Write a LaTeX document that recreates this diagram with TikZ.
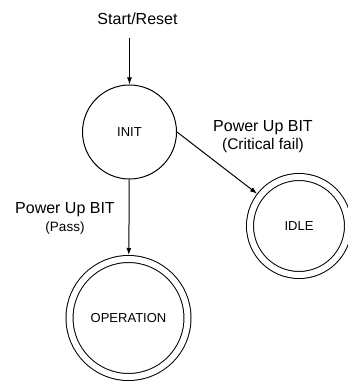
\documentclass[tikz,border=0pt]{standalone}
\usepackage{fontspec}
\setmainfont{Liberation Sans}
\usetikzlibrary{arrows.meta,positioning}

\begin{document}
\begin{tikzpicture}[x=1pt,y=1pt,line width=1pt,>={Latex[length=7pt,width=5pt]},
  state/.style={circle,draw,inner sep=0pt,font=\fontsize{13}{15}\selectfont},
  final/.style={state,double,double distance=6pt,outer sep=4pt},
  lbl/.style={align=center,font=\fontsize{16}{18}\selectfont}]
  \useasboundingbox (0,0) rectangle (348,381);

  \node[lbl] (reset) at (137.5,362) {Start/Reset};   % entry label
  \coordinate (entry) at (129.5,343);                % top of entry arrow
  \node[state,minimum size=94pt] (init) at (129.5,249) {INIT};
  \node[final,minimum size=118pt] (oper) at (128.5,63) {OPERATION};
  \node[final,minimum size=98pt] (idle) at (299,155) {IDLE};

  \draw[->] (entry) -- (init);        % reset
  \draw[->] (init) -- (oper);         % pass
  \draw[->] (init.east) -- (idle);    % critical fail

  \node[lbl] (pass) at (65,163) {Power Up BIT\\{\fontsize{13.5}{16}\selectfont(Pass)}};
  \node[lbl] (fail) at (263,244) {Power Up BIT\\{\fontsize{15.5}{16}\selectfont(Critical fail)}};
\end{tikzpicture}
\end{document}
